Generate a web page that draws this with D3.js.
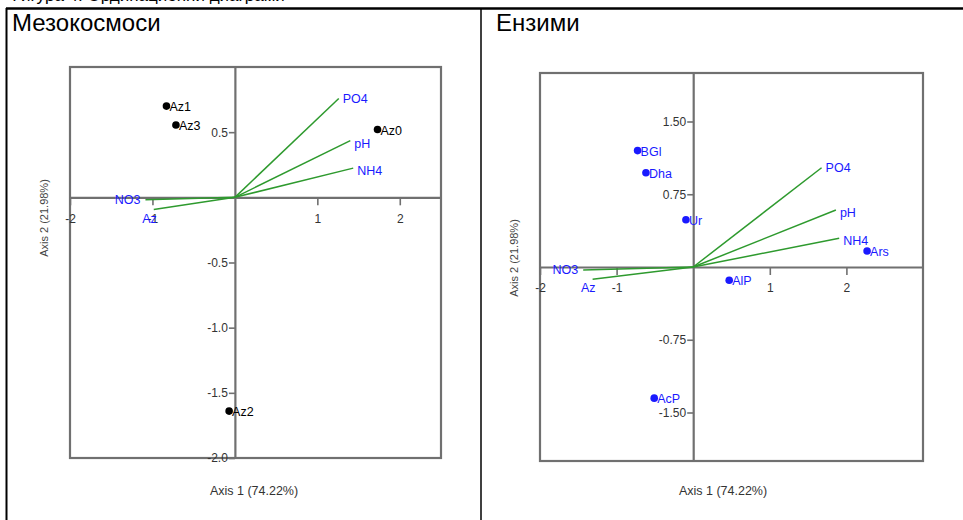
<!DOCTYPE html>
<html>
<head>
<meta charset="utf-8">
<script src="https://cdn.jsdelivr.net/npm/d3@7"></script>
<style>
body { margin: 0; background: #fff; }
text { font-family: "Liberation Sans", Arial, sans-serif; }
</style>
</head>
<body>
<svg id="chart" width="963" height="520"></svg>
<script>
// ---- data: Мезокосмоси ----
var mesoSites = ["Az0", "Az1", "Az2", "Az3"];
var mesoX = [1.73, -0.83, -0.07, -0.715];
var mesoY = [0.52, 0.70, -1.64, 0.555];

// ---- data: Ензими ----
var enzNames = ["BGl", "Dha", "Ur", "Ars", "AlP", "AcP"];
var enzX = [-0.726, -0.617, -0.095, 2.27, 0.47, -0.509];
var enzY = [1.20, 0.971, 0.487, 0.165, -0.137, -1.352];

// ---- environmental vectors ----
var vecNames = ["PO4", "pH", "NH4", "NO3", "Az"];
var mesoVecX = [1.26, 1.40, 1.435, -1.085, -0.984];
var mesoVecY = [0.758, 0.435, 0.224, -0.018, -0.094];
var enzVecX = [1.676, 1.863, 1.906, -1.436, -1.313];
var enzVecY = [1.023, 0.587, 0.296, -0.031, -0.127];

// ---- ticks ----
var mesoXTicks = [-2, -1, 1, 2];
var mesoYTicks = [-2, -1.5, -1, -0.5, 0.5];
var enzXTicks = [-2, -1, 1, 2];
var enzYTicks = [-1.5, -0.75, 0.75, 1.5];

var panelTitles = ["Мезокосмоси", "Ензими"];
var axis1Title = "Axis 1 (74.22%)";
var axis2Title = "Axis 2 (21.98%)";

var svg = d3.select("#chart");

// cut off caption line above the table
svg.append("text")
    .attr("x", 8).attr("y", 0.5)
    .style("font-size", "17px")
    .attr("fill", "#000")
    .text("Фигура 4. Ординационни диаграми");

// table borders
svg.append("line").attr("x1", 6.5).attr("y1", 8).attr("x2", 6.5).attr("y2", 520).attr("stroke", "#000").attr("stroke-width", 2);
svg.append("line").attr("x1", 6).attr("y1", 8.5).attr("x2", 963).attr("y2", 8.5).attr("stroke", "#000").attr("stroke-width", 2.5);
svg.append("line").attr("x1", 481).attr("y1", 8).attr("x2", 481).attr("y2", 520).attr("stroke", "#000").attr("stroke-width", 1.5);

var green = "#2e9a2e", blue = "#1a1aff", gray = "#707070";

// plain hyphen instead of the unicode minus
function hyph(fmt) {
    var f = d3.format(fmt);
    return function(d) { return f(d).replace("\u2212", "-"); };
}

function biplot(p)
{
    var x = d3.scaleLinear().domain(p.xdom).range([p.left, p.right]);
    var y = d3.scaleLinear().domain(p.ydom).range([p.bottom, p.top]);
    var g = svg.append("g");

    g.append("text")
        .attr("x", p.titleX).attr("y", 31)
        .style("font-size", "24px")
        .attr("fill", "#000")
        .text(p.title);

    // frame
    g.append("rect")
        .attr("x", p.left).attr("y", p.top)
        .attr("width", p.right - p.left).attr("height", p.bottom - p.top)
        .attr("fill", "none").attr("stroke", gray).attr("stroke-width", 2.2);

    // axes through origin
    var ax = g.append("g")
        .attr("transform", "translate(0," + y(0) + ")")
        .call(d3.axisBottom(x).tickValues(p.xticks).tickSize(8).tickSizeOuter(0).tickFormat(hyph("d")));
    ax.selectAll("text").attr("dy", "1.2em");
    var ay = g.append("g")
        .attr("transform", "translate(" + x(0) + ",0)")
        .call(d3.axisLeft(y).tickValues(p.yticks).tickSize(6).tickSizeOuter(0).tickPadding(1).tickFormat(hyph(p.yfmt)));
    [ax, ay].forEach(function(a) {
        a.select(".domain").attr("stroke", gray).attr("stroke-width", 2.2);
        a.selectAll(".tick line").attr("stroke", gray).attr("stroke-width", 1.6);
        a.selectAll("text").style("font-size", "12px").style("font-family", "'Liberation Sans', Arial, sans-serif").attr("fill", "#333");
    });

    // vectors
    for(var i = 0; i < vecNames.length; i++)
    {
        g.append("line")
            .attr("x1", x(0)).attr("y1", y(0))
            .attr("x2", x(p.vx[i])).attr("y2", y(p.vy[i]))
            .attr("stroke", green).attr("stroke-width", 1.5);
        var left = p.vx[i] < 0;
        var lbl = g.append("text")
            .attr("x", x(p.vx[i]) + (left ? -5 : 4))
            .attr("y", y(p.vy[i]) + 4)
            .style("font-size", "12.5px")
            .style("text-anchor", left ? "end" : "start")
            .attr("fill", blue)
            .text(vecNames[i]);
        if(vecNames[i] == "Az") lbl.attr("x", x(p.vx[i]) + 3).attr("y", y(p.vy[i]) + 13);
        if(vecNames[i] == "pH" || vecNames[i] == "NH4") lbl.attr("y", y(p.vy[i]) + 7);
    }

    // sites / samples
    for(var j = 0; j < p.names.length; j++)
    {
        g.append("circle")
            .attr("cx", x(p.px[j])).attr("cy", y(p.py[j]))
            .attr("r", 3.8).attr("fill", p.ptColor);
        g.append("text")
            .attr("x", x(p.px[j]) + 3).attr("y", y(p.py[j]) + 5)
            .style("font-size", "12.5px")
            .attr("fill", p.ptColor)
            .text(p.names[j]);
    }

    g.append("text")
        .attr("x", p.ax1X).attr("y", 495)
        .style("font-size", "12.5px").style("text-anchor", "middle")
        .attr("fill", "#333")
        .text(axis1Title);
    g.append("text")
        .attr("transform", "translate(" + p.ax2X + "," + p.ax2Y + ") rotate(-90)")
        .style("font-size", "11px").style("text-anchor", "middle")
        .attr("fill", "#444")
        .text(axis2Title);
}

biplot({
    title: panelTitles[0], titleX: 12,
    left: 70, right: 441, top: 67, bottom: 458,
    xdom: [-2, 2.5], ydom: [-2, 1],
    xticks: mesoXTicks, yticks: mesoYTicks, yfmt: ".1f",
    vx: mesoVecX, vy: mesoVecY,
    names: mesoSites, px: mesoX, py: mesoY, ptColor: "#000",
    ax1X: 254, ax2X: 48, ax2Y: 218
});

biplot({
    title: panelTitles[1], titleX: 496,
    left: 540, right: 923, top: 73, bottom: 461,
    xdom: [-2, 3], ydom: [-2, 2],
    xticks: enzXTicks, yticks: enzYTicks, yfmt: ".2f",
    vx: enzVecX, vy: enzVecY,
    names: enzNames, px: enzX, py: enzY, ptColor: blue,
    ax1X: 723, ax2X: 518, ax2Y: 258
});
</script>
</body>
</html>
